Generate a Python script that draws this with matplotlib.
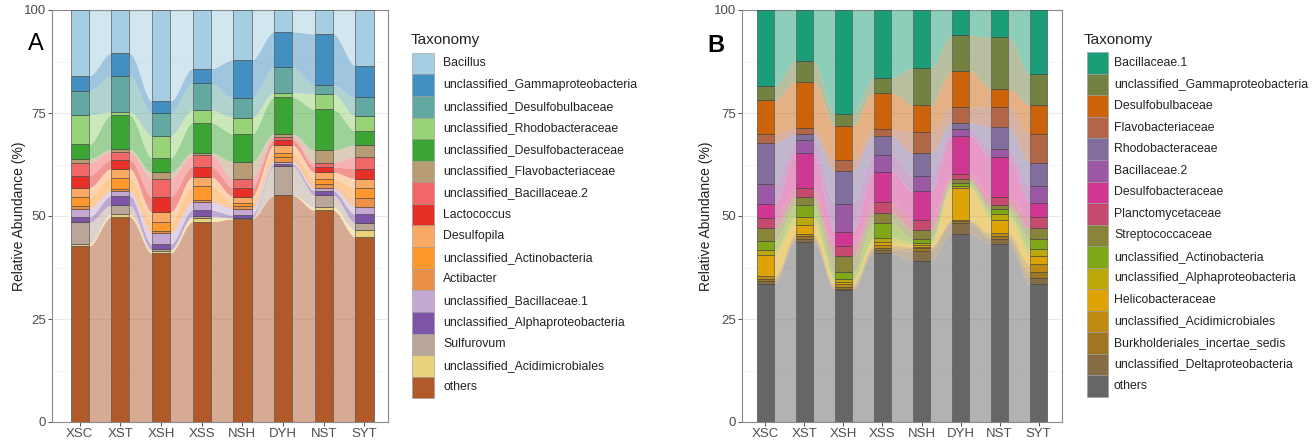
import numpy as np
import matplotlib
matplotlib.use('Agg')
import matplotlib.pyplot as plt
from matplotlib.colors import LinearSegmentedColormap
from matplotlib.patches import Rectangle

plt.rcParams['font.family'] = ['Liberation Sans', 'DejaVu Sans']

W, H = 1314, 441

samples = ['XSC', 'XST', 'XSH', 'XSS', 'NSH', 'DYH', 'NST', 'SYT']

# ---- panel A (legend order, top of stack first) ----
taxa_a = ['Bacillus', 'unclassified_Gammaproteobacteria', 'unclassified_Desulfobulbaceae',
          'unclassified_Rhodobacteraceae', 'unclassified_Desulfobacteraceae',
          'unclassified_Flavobacteriaceae', 'unclassified_Bacillaceae.2', 'Lactococcus',
          'Desulfopila', 'unclassified_Actinobacteria', 'Actibacter',
          'unclassified_Bacillaceae.1', 'unclassified_Alphaproteobacteria', 'Sulfurovum',
          'unclassified_Acidimicrobiales', 'others']
a_bacillus = [16.0, 10.5, 22.1, 14.2, 12.1, 5.3, 5.8, 13.5]
a_gamma = [3.6, 5.5, 3.0, 3.6, 9.2, 8.6, 12.4, 7.6]
a_desulfobulb = [5.9, 8.7, 5.4, 6.5, 4.8, 6.2, 2.2, 4.6]
a_rhodo = [7.1, 0.8, 5.4, 3.1, 4.0, 1.1, 3.7, 3.6]
a_desulfobacter = [3.6, 8.3, 3.5, 7.3, 6.7, 8.8, 9.9, 3.5]
a_flavo = [0.9, 0.6, 1.5, 0.5, 4.1, 0.8, 3.1, 2.8]
a_bac2 = [3.1, 2.0, 4.4, 2.9, 2.3, 0.8, 1.0, 2.9]
a_lacto = [2.9, 2.1, 3.7, 2.4, 2.1, 1.2, 1.3, 2.4]
a_desulfopila = [2.2, 2.2, 2.4, 2.3, 1.5, 2.0, 1.6, 2.4]
a_actino = [2.3, 2.8, 2.2, 3.2, 0.7, 1.0, 1.3, 2.3]
a_actibacter = [0.6, 0.4, 0.6, 0.6, 0.7, 1.0, 1.0, 2.2]
a_bac1 = [2.1, 1.2, 2.7, 2.0, 1.6, 0.6, 0.6, 1.8]
a_alpha = [1.2, 2.3, 1.2, 1.4, 0.6, 0.5, 1.0, 2.0]
a_sulfurovum = [5.3, 2.0, 0.4, 0.4, 0.1, 7.0, 2.9, 1.8]
a_acidi = [0.5, 0.8, 0.5, 1.0, 0.2, 0.1, 0.8, 1.7]
a_others = [42.7, 49.8, 41.0, 48.6, 49.3, 55.0, 51.4, 44.9]

# ---- panel B ----
taxa_b = ['Bacillaceae.1', 'unclassified_Gammaproteobacteria', 'Desulfobulbaceae',
          'Flavobacteriaceae', 'Rhodobacteraceae', 'Bacillaceae.2', 'Desulfobacteraceae',
          'Planctomycetaceae', 'Streptococcaceae', 'unclassified_Actinobacteria',
          'unclassified_Alphaproteobacteria', 'Helicobacteraceae',
          'unclassified_Acidimicrobiales', 'Burkholderiales_incertae_sedis',
          'unclassified_Deltaproteobacteria', 'others']
b_bac1 = [18.5, 12.3, 25.3, 16.4, 14.0, 6.1, 6.6, 15.6]
b_gamma = [3.4, 5.1, 2.8, 3.7, 9.1, 8.6, 12.6, 7.5]
b_desulfobulb = [8.3, 11.3, 8.2, 8.9, 6.5, 8.8, 4.3, 7.1]
b_flavo = [2.2, 1.4, 2.8, 1.5, 5.2, 3.9, 4.8, 6.9]
b_rhodo = [9.9, 1.5, 7.9, 4.6, 5.4, 1.5, 5.5, 5.7]
b_bac2 = [4.7, 3.1, 6.8, 4.2, 3.8, 1.6, 1.8, 4.0]
b_desulfobacter = [3.6, 8.6, 3.5, 7.3, 6.9, 9.4, 9.7, 3.4]
b_plancto = [2.4, 2.0, 2.4, 2.6, 2.5, 1.2, 2.1, 2.8]
b_strepto = [3.0, 2.1, 3.9, 2.6, 2.1, 0.8, 1.0, 2.5]
b_actino = [2.3, 2.8, 1.8, 3.5, 1.0, 0.8, 1.2, 2.4]
b_alpha = [1.2, 1.9, 0.6, 1.1, 0.6, 0.5, 1.3, 1.9]
b_helico = [5.0, 2.2, 0.6, 0.7, 0.4, 7.7, 3.2, 1.9]
b_acidi = [0.7, 0.6, 0.6, 0.6, 0.2, 0.4, 0.8, 1.9]
b_burkh = [0.5, 0.6, 0.4, 0.6, 0.8, 0.5, 0.6, 1.4]
b_delta = [0.7, 0.7, 0.4, 0.8, 2.4, 2.5, 1.2, 1.6]
b_others = [33.6, 43.8, 32.0, 40.9, 39.1, 45.7, 43.3, 33.4]

values_a = [a_bacillus, a_gamma, a_desulfobulb, a_rhodo, a_desulfobacter, a_flavo, a_bac2,
            a_lacto, a_desulfopila, a_actino, a_actibacter, a_bac1, a_alpha, a_sulfurovum,
            a_acidi, a_others]
values_b = [b_bac1, b_gamma, b_desulfobulb, b_flavo, b_rhodo, b_bac2, b_desulfobacter,
            b_plancto, b_strepto, b_actino, b_alpha, b_helico, b_acidi, b_burkh, b_delta,
            b_others]

paired = ['#A6CEE3', '#1F78B4', '#B2DF8A', '#33A02C', '#FB9A99', '#E31A1C',
          '#FDBF6F', '#FF7F00', '#CAB2D6', '#6A3D9A', '#FFFF99', '#B15928']
dark2 = ['#1B9E77', '#D95F02', '#7570B3', '#E7298A', '#66A61E', '#E6AB02',
         '#A6761D', '#666666']


def ramp(colors, n):
    # same idea as R's colorRampPalette
    cmap = LinearSegmentedColormap.from_list('ramp', colors, N=1024)
    return [cmap(t) for t in np.linspace(0, 1, n)]


def fpos(x, y):
    return x / W, 1 - y / H


def draw_alluvial(ax, values, colors, xlim, label_x):
    n = len(samples)
    x = np.arange(1, n + 1)
    stack = np.array(values[::-1])  # bottom first
    cols = colors[::-1]
    tops = np.cumsum(stack, axis=0)
    bottoms = tops - stack
    w = 0.45
    t = np.linspace(0, 1, 80)
    s = t * t * (3 - 2 * t)
    for k in range(len(stack)):
        for i in range(n - 1):
            xs = np.linspace(x[i] + w / 2, x[i + 1] - w / 2, 80)
            lo = bottoms[k, i] + (bottoms[k, i + 1] - bottoms[k, i]) * s
            hi = tops[k, i] + (tops[k, i + 1] - tops[k, i]) * s
            ax.fill_between(xs, lo, hi, color=cols[k], alpha=0.5, lw=0, zorder=2)
        ax.bar(x, stack[k], bottom=bottoms[k], width=w, color=cols[k],
               edgecolor='#3a3a3a', linewidth=0.4, zorder=3)

    ax.set_xlim(*xlim)
    ax.set_ylim(0, 100)
    ax.set_xticks(x)
    ax.set_xticklabels(samples)
    ax.set_yticks([0, 25, 50, 75, 100])
    ax.set_yticks([12.5, 37.5, 62.5, 87.5], minor=True)
    ax.grid(axis='y', which='major', color='#EBEBEB', lw=0.8, zorder=0)
    ax.grid(axis='y', which='minor', color='#F2F2F2', lw=0.5, zorder=0)
    ax.set_axisbelow(True)
    ax.tick_params(axis='both', which='major', labelsize=9.5, colors='#333333',
                   labelcolor='#4D4D4D', length=3, width=0.6, pad=1.5)
    ax.tick_params(axis='y', which='minor', length=0)
    for sp in ax.spines.values():
        sp.set_color('#8a8a8a')
        sp.set_linewidth(0.8)
    ax.set_ylabel('Relative Abundance (%)', fontsize=10, color='#222222', va='center')
    ax.yaxis.set_label_coords(label_x, 0.5)


def draw_legend(fig, names, colors, title_xy, key_x, key_top, key_w, key_h, text_x, size):
    fig.text(*fpos(*title_xy), 'Taxonomy', fontsize=11, color='#222222',
             ha='left', va='center')
    for j, (nm, c) in enumerate(zip(names, colors)):
        y0 = key_top + j * key_h
        x0, yb = fpos(key_x, y0 + key_h)
        fig.add_artist(Rectangle((x0, yb), key_w / W, key_h / H, facecolor=c,
                                 edgecolor='#9a9a9a', lw=0.4, transform=fig.transFigure))
        fig.text(*fpos(text_x, y0 + key_h / 2), nm, fontsize=size, color='#222222',
                 ha='left', va='center')


fig = plt.figure(figsize=(W / 100, H / 100), dpi=100)

ax_a = fig.add_axes([52 / W, 1 - 422 / H, 336 / W, 412 / H])
cols_a = ramp(paired, 16)
draw_alluvial(ax_a, values_a, cols_a, (0.32, 8.58), -0.0997)
draw_legend(fig, taxa_a, cols_a, (411, 40), 412, 52.7, 22, 21.6, 443, 8.8)
fig.text(*fpos(36, 44), 'A', fontsize=17, ha='center', va='center', color='black')

ax_b = fig.add_axes([742 / W, 1 - 422 / H, 320 / W, 412 / H])
cols_b = ramp(dark2, 16)
draw_alluvial(ax_b, values_b, cols_b, (0.4, 8.6), -0.1125)
draw_legend(fig, taxa_b, cols_b, (1084, 40), 1087, 52.2, 20.5, 21.55, 1114, 8.8)
fig.text(*fpos(716, 45), 'B', fontsize=17, fontweight='bold', ha='center', va='center',
         color='black')

fig.savefig('out.png', dpi=100)
